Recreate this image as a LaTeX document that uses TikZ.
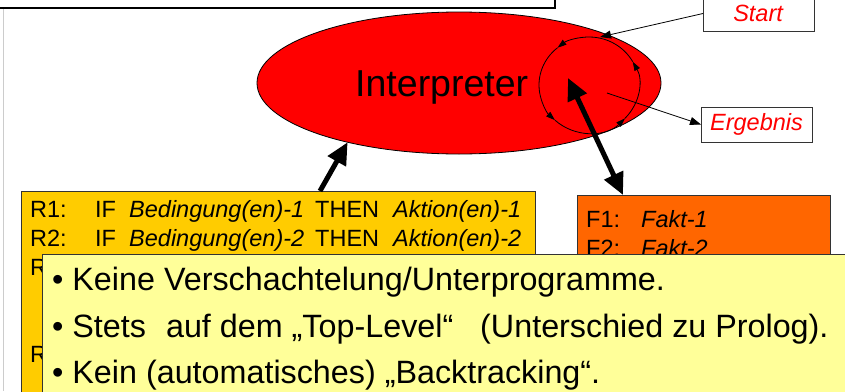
\documentclass[tikz,border=0pt]{standalone}
\usepackage{fontspec}
\setmainfont{Liberation Sans}
\usetikzlibrary{shapes.geometric,arrows.meta}
\definecolor{rulecol}{HTML}{FFCC00}
\definecolor{factcol}{HTML}{FF6600}
\definecolor{notecol}{HTML}{FFFF99}

\begin{document}
\begin{tikzpicture}[x=1pt,y=-1pt,
    box/.style={draw=black!80, line width=1pt, inner sep=0pt, outer sep=0pt, anchor=north west},
    small/.style={font=\fontsize{23.5}{28}\selectfont},
    big/.style={font=\fontsize{32.3}{37}\selectfont},
    textline/.style={anchor=base west, inner sep=0pt},
    thin arrow/.style={-{Triangle[length=11pt,width=8pt]}, line width=0.8pt},
    loop arrow/.style={-{Triangle[length=9pt,width=6pt]}, line width=0.8pt},
    fat arrow/.style={-{Triangle[length=22pt,width=20pt]}, line width=5pt}]
    \useasboundingbox (0,0) rectangle (845,391);

    % slide edge and title box
    \draw[black!20, line width=0.8pt] (3,9) -- (3,391);
    \draw[line width=1.2pt] (-10,-30) rectangle (555,8);

    % Interpreter
    \node[ellipse, draw, fill=red, line width=0.8pt, minimum width=404pt, minimum height=142pt, inner sep=0pt, outer sep=0pt] (interp) at (459,83) {};
    \node[textline, font=\fontsize{37.5}{42}\selectfont] (interplabel) at (355,96) {Interpreter};

    % control loop
    \coordinate (loop) at (589,85);
    \foreach \a/\b in {29/129,129/227,227/316,316/389}
        \draw[loop arrow] (loop) ++(-\a:50 and 48) arc[start angle=-\a, end angle=-\b, x radius=50, y radius=48];

    % Start and Ergebnis
    \node[box, fill=white, small, text=red, minimum width=111pt, minimum height=35pt] (start) at (703,-4) {\textit{Start}};
    \node[box, fill=white, small, text=red, minimum width=111pt, minimum height=35pt] (result) at (701,107) {\textit{Ergebnis}};
    \coordinate (loopin) at (600,37);
    \coordinate (loopout) at (607,93);
    \draw[thin arrow] (start.west) -- (loopin);
    \draw[thin arrow] (loopout) -- (result.west);

    % rule base and facts
    \node[box, fill=rulecol, minimum width=514pt, minimum height=220pt] (rules) at (21,191) {};
    \node[box, fill=factcol, minimum width=253pt, minimum height=110pt] (facts) at (577,195) {};
    \foreach \i/\y in {1/217,2/246}
        \node[textline, small] (rule\i) at (30,\y) {\makebox[65pt][l]{R\i:}\makebox[34pt][l]{IF}\makebox[186pt][l]{\textit{Bedingung(en)-\i}}\makebox[78pt][l]{THEN}\textit{Aktion(en)-\i}};
    \node[textline, small] (rule3) at (30,275) {R3:};
    \node[textline, small] (rulen) at (30,362) {Rn:};
    \foreach \i/\y in {1/227,2/256}
        \node[textline, small] (fact\i) at (586,\y) {\makebox[55pt][l]{F\i:}\textit{Fakt-\i}};

    % access arrows
    \coordinate (inner) at (568,78);
    \draw[fat arrow] ([xshift=299pt]rules.north west) -- (interp.208);
    \draw[fat arrow, {Triangle[length=22pt,width=20pt]}-{Triangle[length=22pt,width=20pt]}] (inner) -- ([xshift=46pt]facts.north west);

    % notes
    \node[box, fill=notecol, minimum width=830pt, minimum height=150pt] (notes) at (42,254) {};
    \node[textline, big] (note1) at (52,290) {• Keine Verschachtelung/Unterprogramme.};
    \node[textline, big] (note2) at (52,337) {• Stets\hspace{11pt} auf dem „Top-Level“\hspace{18pt} (Unterschied zu Prolog).};
    \node[textline, big] (note3) at (52,383) {• Kein (automatisches) „Backtracking“.};
\end{tikzpicture}
\end{document}
